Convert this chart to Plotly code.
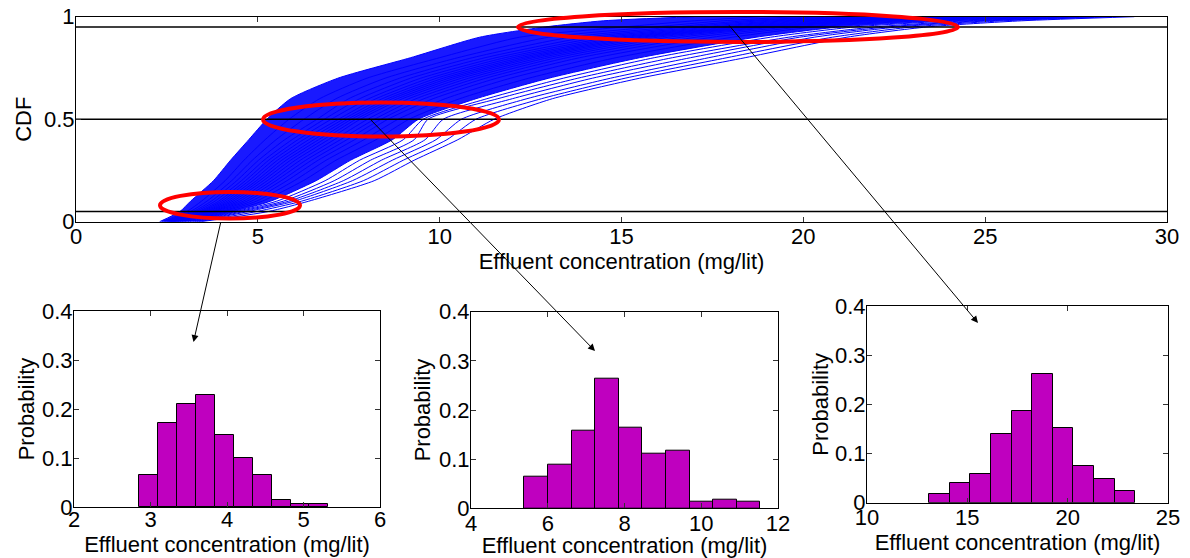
import plotly.graph_objects as go

W, H = 1190, 558

# ---------------- data ----------------
# CDF levels at which each simulated effluent CDF curve is read
cdf_levels = [0.0, 0.05, 0.1, 0.2, 0.3, 0.4, 0.5, 0.6, 0.7, 0.8, 0.9, 0.95, 0.98, 1.0]

# effluent concentration (mg/lit) of each curve at each CDF level (curves ordered left -> right)
conc_q000 = [2.30, 2.36, 2.41, 2.45, 2.49, 2.52, 2.55, 2.58, 2.61, 2.63, 2.66, 2.69, 2.72, 2.76, 2.80, 2.85, 2.91, 2.98, 3.07, 3.13, 3.20, 3.26, 3.32, 3.38, 3.45]
conc_q005 = [2.86, 3.05, 3.15, 3.23, 3.30, 3.37, 3.43, 3.49, 3.55, 3.61, 3.66, 3.72, 3.78, 3.83, 3.91, 4.00, 4.08, 4.20, 4.33, 4.41, 4.50, 4.62, 4.75, 4.98, 5.30]
conc_q010 = [3.15, 3.45, 3.60, 3.72, 3.82, 3.92, 4.00, 4.08, 4.16, 4.24, 4.32, 4.41, 4.50, 4.60, 4.70, 4.82, 4.96, 5.12, 5.35, 5.52, 5.70, 5.85, 6.00, 6.20, 6.40]
conc_q020 = [3.78, 4.10, 4.28, 4.42, 4.55, 4.66, 4.76, 4.86, 4.96, 5.05, 5.15, 5.26, 5.38, 5.50, 5.64, 5.80, 6.00, 6.25, 6.60, 6.85, 7.10, 7.35, 7.60, 7.90, 8.20]
conc_q030 = [4.25, 4.62, 4.85, 5.02, 5.17, 5.30, 5.42, 5.54, 5.66, 5.78, 5.90, 6.03, 6.17, 6.32, 6.48, 6.66, 6.88, 7.15, 7.55, 7.80, 8.10, 8.40, 8.70, 9.00, 9.30]
conc_q040 = [4.75, 5.20, 5.50, 5.74, 5.94, 6.10, 6.25, 6.40, 6.54, 6.67, 6.80, 6.94, 7.10, 7.27, 7.45, 7.66, 7.92, 8.25, 8.70, 9.00, 9.30, 9.60, 9.90, 10.20, 10.50]
conc_q050 = [5.25, 5.86, 6.27, 6.63, 6.83, 7.02, 7.22, 7.35, 7.47, 7.58, 7.70, 7.82, 8.02, 8.21, 8.39, 8.58, 8.86, 9.16, 9.42, 9.55, 9.68, 10.10, 10.60, 11.00, 11.50]
conc_q060 = [5.90, 6.70, 7.15, 7.50, 7.80, 8.05, 8.25, 8.42, 8.57, 8.70, 8.84, 8.98, 9.15, 9.35, 9.57, 9.82, 10.15, 10.55, 11.00, 11.30, 11.60, 12.00, 12.40, 12.80, 13.10]
conc_q070 = [7.20, 8.00, 8.50, 8.90, 9.20, 9.48, 9.72, 9.92, 10.10, 10.26, 10.42, 10.60, 10.80, 11.02, 11.27, 11.57, 11.95, 12.45, 13.00, 13.40, 13.80, 14.20, 14.70, 15.10, 15.50]
conc_q080 = [9.20, 10.00, 10.50, 10.90, 11.25, 11.55, 11.80, 12.02, 12.22, 12.40, 12.57, 12.77, 12.98, 13.22, 13.50, 13.85, 14.30, 14.85, 15.50, 15.90, 16.40, 16.90, 17.40, 17.90, 18.40]
conc_q090 = [11.10, 12.20, 13.00, 13.60, 14.05, 14.40, 14.70, 14.95, 15.15, 15.35, 15.55, 15.75, 16.00, 16.30, 16.65, 17.05, 17.50, 18.05, 18.70, 19.10, 19.60, 19.90, 20.30, 20.80, 21.20]
conc_q095 = [12.90, 15.07, 15.90, 16.45, 16.82, 17.18, 17.48, 17.75, 18.03, 18.28, 18.47, 18.67, 18.86, 19.05, 19.26, 19.62, 19.97, 20.31, 20.98, 21.40, 21.96, 22.30, 22.60, 23.00, 23.40]
conc_q098 = [14.50, 17.00, 17.80, 18.40, 18.80, 19.20, 19.50, 19.80, 20.10, 20.40, 20.70, 21.00, 21.30, 21.60, 21.90, 22.30, 22.70, 23.20, 23.80, 24.10, 24.50, 24.80, 25.10, 25.50, 26.00]
conc_q100 = [17.00, 18.80, 19.80, 20.50, 21.00, 21.50, 21.90, 22.30, 22.70, 23.00, 23.40, 23.70, 24.00, 24.40, 24.80, 25.30, 25.80, 26.40, 27.00, 27.30, 27.60, 27.90, 28.20, 28.60, 29.10]

conc_by_level = [conc_q000, conc_q005, conc_q010, conc_q020, conc_q030, conc_q040, conc_q050,
                 conc_q060, conc_q070, conc_q080, conc_q090, conc_q095, conc_q098, conc_q100]

# index of the curve bounding the dense core of the bundle on the right
core_edge = 18

# horizontal reference CDF levels
cdf_marks = [0.05, 0.5, 0.95]

# histograms of effluent concentration at the three CDF levels
h1_centers = [2.978, 3.225, 3.472, 3.719, 3.966, 4.213, 4.460, 4.707, 4.954, 5.201]
h1_prob = [0.065, 0.171, 0.211, 0.229, 0.146, 0.100, 0.065, 0.014, 0.007, 0.007]
h1_width = 0.247

h2_centers = [5.698, 6.313, 6.928, 7.543, 8.157, 8.772, 9.387, 10.002, 10.617, 11.232]
h2_prob = [0.064, 0.088, 0.157, 0.263, 0.165, 0.112, 0.118, 0.014, 0.018, 0.014]
h2_width = 0.615

h3_centers = [13.604, 14.632, 15.660, 16.688, 17.716, 18.744, 19.772, 20.800, 21.828, 22.856]
h3_prob = [0.017, 0.041, 0.059, 0.140, 0.186, 0.262, 0.151, 0.075, 0.048, 0.024]
h3_width = 1.028

x_title = "Effluent concentration (mg/lit)"

# ---------------- figure ----------------
FONT = "Arial, 'Liberation Sans', sans-serif"
FS_TICK = 22
FS_TITLE = 22
BLUE = "#0000FF"
MAG = "#BF00BF"

n_curves = len(conc_q000)
curves = [[lvl[i] for lvl in conc_by_level] for i in range(n_curves)]

fig = go.Figure()

# dense core of the curve bundle
core_x = curves[0] + curves[core_edge][::-1]
core_y = cdf_levels + cdf_levels[::-1]
fig.add_trace(go.Scatter(x=core_x, y=core_y, mode="lines", fill="toself",
                         fillcolor="rgba(0,0,255,0.9)", line=dict(width=0, shape="spline", smoothing=0.6),
                         hoverinfo="skip", showlegend=False, xaxis="x", yaxis="y"))

# individual CDF curves
lx, ly = [], []
for c in curves:
    lx += c + [None]
    ly += cdf_levels + [None]
fig.add_trace(go.Scatter(x=lx, y=ly, mode="lines", line=dict(color=BLUE, width=1, shape="spline", smoothing=0.6),
                         showlegend=False, xaxis="x", yaxis="y"))

# horizontal reference lines
hx, hy = [], []
for m in cdf_marks:
    hx += [0, 30, None]
    hy += [m, m, None]
fig.add_trace(go.Scatter(x=hx, y=hy, mode="lines", line=dict(color="black", width=1.6),
                         showlegend=False, xaxis="x", yaxis="y"))

# histograms
for cen, prob, wd, xa, ya in [(h1_centers, h1_prob, h1_width, "x2", "y2"),
                              (h2_centers, h2_prob, h2_width, "x3", "y3"),
                              (h3_centers, h3_prob, h3_width, "x4", "y4")]:
    fig.add_trace(go.Bar(x=cen, y=prob, width=wd, marker=dict(color=MAG, line=dict(color="black", width=1)),
                         showlegend=False, xaxis=xa, yaxis=ya))


def px_x(p):
    return p / W


def px_y(p):
    return 1 - p / H


axis_common = dict(showline=True, linecolor="black", linewidth=1, mirror="allticks",
                   ticks="inside", ticklen=5, tickcolor="#333333", showgrid=False, zeroline=False,
                   automargin=False,
                   tickfont=dict(family=FONT, size=FS_TICK, color="black"))


def ttl(text, standoff):
    return dict(text=text, standoff=standoff, font=dict(family=FONT, size=FS_TITLE, color="black"))


fig.update_layout(
    width=W, height=H, autosize=False,
    margin=dict(l=0, r=0, t=0, b=0, pad=0, autoexpand=False),
    paper_bgcolor="white", plot_bgcolor="white",
    font=dict(family=FONT, size=FS_TICK, color="black"),
    bargap=0,
    xaxis=dict(domain=[px_x(76), px_x(1167)], range=[0, 30], tickvals=[0, 5, 10, 15, 20, 25, 30],
               anchor="y", ticklabelstandoff=-5, title=ttl(x_title, 1), **axis_common),
    yaxis=dict(domain=[px_y(221.7), px_y(16.7)], range=[0, 1], tickvals=[0, 0.5, 1],
               anchor="x", ticklabelstandoff=-4, title=ttl("CDF", 6), **axis_common),
    xaxis2=dict(domain=[px_x(74), px_x(380)], range=[2, 6], dtick=1,
                anchor="y2", ticklabelstandoff=-7, title=ttl(x_title, 0), **axis_common),
    yaxis2=dict(domain=[px_y(507), px_y(311)], range=[0, 0.4], dtick=0.1,
                anchor="x2", ticklabelstandoff=-4, title=ttl("Probability", 1), **axis_common),
    xaxis3=dict(domain=[px_x(471), px_x(778)], range=[4, 12], dtick=2,
                anchor="y3", ticklabelstandoff=-5, title=ttl(x_title, 11), **axis_common),
    yaxis3=dict(domain=[px_y(508.3), px_y(311.7)], range=[0, 0.4], dtick=0.1,
                anchor="x3", ticklabelstandoff=-4, title=ttl("Probability", 2), **axis_common),
    xaxis4=dict(domain=[px_x(867), px_x(1168)], range=[10, 25], dtick=5,
                anchor="y4", ticklabelstandoff=-5, title=ttl(x_title, 2), **axis_common),
    yaxis4=dict(domain=[px_y(502.7), px_y(306)], range=[0, 0.4], dtick=0.1,
                anchor="x4", ticklabelstandoff=-4, title=ttl("Probability", 0), **axis_common),
)

# red ellipses highlighting the three CDF levels (pixel boxes)
ellipses = [(160, 192, 300, 218.5), (263, 102.5, 499, 136.5), (518, 12, 958, 42)]
for (x0, y0, x1, y1) in ellipses:
    fig.add_shape(type="circle", xref="paper", yref="paper",
                  x0=px_x(x0), x1=px_x(x1), y0=px_y(y1), y1=px_y(y0),
                  line=dict(color="red", width=4), layer="above")

# arrows: (tail px, head px)
arrows = [((221, 221), (193.5, 342)), ((368, 117), (595, 351)), ((728, 24), (978, 323))]
for (tx, ty), (hx_, hy_) in arrows:
    fig.add_annotation(x=px_x(hx_), y=px_y(hy_), xref="paper", yref="paper",
                       ax=tx - hx_, ay=ty - hy_, axref="pixel", ayref="pixel",
                       text="", showarrow=True, arrowhead=2, arrowsize=1.4, arrowwidth=1,
                       arrowcolor="black", standoff=0, startstandoff=0)

fig.write_html("out.html", config={"displayModeBar": False},
               post_script="document.body.style.margin='0px';")
